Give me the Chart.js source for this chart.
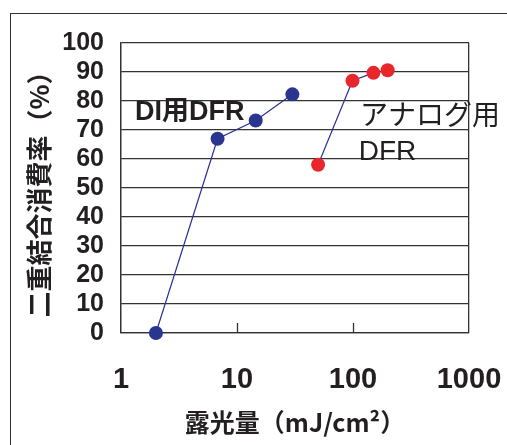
<!DOCTYPE html>
<html lang="ja">
<head>
    <meta charset="UTF-8">
    <title>二重結合消費率</title>
    <script src="https://cdn.jsdelivr.net/npm/chart.js"></script>
    <style>
        body {
            margin: 0;
            background: #fff;
        }

        .wrap {
            position: relative;
            width: 507px;
            height: 445px;
        }

        .frame {
            position: absolute;
            left: 10px;
            top: 13px;
            right: -5px;
            bottom: -5px;
            border-top: 1.5px solid #333;
            border-left: 1.5px solid #333;
        }

        #chart {
            position: absolute;
            left: 0;
            top: 0;
        }
    </style>
</head>
<body>
    <div class="wrap">
        <div class="frame"></div>
        <canvas id="chart" width="507" height="445"></canvas>
    </div>

    <script>
        // 露光量 (mJ/cm2) と 二重結合消費率 (%)
        const diExposure = [2, 6.8, 14.5, 30];
        const diRate = [0, 67, 73.3, 82.3];
        const anaExposure = [50, 99, 150, 199];
        const anaRate = [58, 87, 89.7, 90.6];

        const xTicks = [1, 10, 100, 1000];
        const innerTicks = [10, 100];

        // ラベル位置 (データ座標)
        const notes = [
            { text: 'DI用DFR', x: 1.32, y: 75.9, font: 'bold 27px "Liberation Sans", "Noto Sans CJK JP", sans-serif' },
            { text: 'アナログ用', x: 115, y: 74.5, font: '28px "Liberation Sans", "Noto Sans CJK JP", sans-serif' },
            { text: 'DFR', x: 112, y: 62.4, font: '28px "Liberation Sans", "Noto Sans CJK JP", sans-serif' }
        ];

        const ink = '#231f20';
        const lineColor = '#2b3193';

        const toPoints = (xs, ys) => xs.map((x, i) => ({ x: x, y: ys[i] }));

        // 目盛り(内向き)とラベル
        const extras = {
            id: 'extras',
            afterDatasetsDraw(chart) {
                const { ctx, scales: { x, y }, chartArea } = chart;
                ctx.save();
                ctx.strokeStyle = '#333';
                ctx.lineWidth = 1.3;
                innerTicks.forEach(v => {
                    const px = Math.round(x.getPixelForValue(v)) + 0.5;
                    ctx.beginPath();
                    ctx.moveTo(px, chartArea.bottom);
                    ctx.lineTo(px, chartArea.bottom - 10);
                    ctx.stroke();
                });
                ctx.fillStyle = ink;
                ctx.textBaseline = 'middle';
                ctx.textAlign = 'left';
                notes.forEach(n => {
                    ctx.font = n.font;
                    ctx.fillText(n.text, x.getPixelForValue(n.x), y.getPixelForValue(n.y));
                });
                ctx.restore();
            }
        };

        const ctx = document.getElementById('chart').getContext('2d');
        new Chart(ctx, {
            type: 'scatter',
            data: {
                datasets: [{
                    data: toPoints(diExposure, diRate),
                    showLine: true,
                    borderColor: lineColor,
                    borderWidth: 1.2,
                    pointRadius: 7,
                    pointBackgroundColor: '#2a3590',
                    pointBorderWidth: 0,
                    clip: false
                }, {
                    data: toPoints(anaExposure, anaRate),
                    showLine: true,
                    borderColor: lineColor,
                    borderWidth: 1.2,
                    pointRadius: 7,
                    pointBackgroundColor: '#e8262b',
                    pointBorderWidth: 0,
                    clip: false
                }]
            },
            options: {
                responsive: false,
                animation: false,
                layout: {
                    padding: { top: 43, right: 38, left: 0, bottom: 0 }
                },
                plugins: {
                    legend: { display: false },
                    tooltip: { enabled: false }
                },
                scales: {
                    x: {
                        type: 'logarithmic',
                        min: 1,
                        max: 1000,
                        afterBuildTicks: s => { s.ticks = xTicks.map(v => ({ value: v })); },
                        afterFit: s => { s.height = 112; s.paddingLeft = 0; s.paddingRight = 0; },
                        grid: {
                            drawTicks: false,
                            color: c => (c.tick && (c.tick.value === 1 || c.tick.value === 1000)) ? '#333' : 'rgba(0,0,0,0)',
                            lineWidth: 1.3
                        },
                        border: { display: true, color: '#333', width: 1.3 },
                        ticks: {
                            padding: 30,
                            color: ink,
                            autoSkip: false,
                            maxRotation: 0,
                            font: { family: '"Liberation Sans", Arial, sans-serif', size: 29, weight: 'bold' },
                            callback: v => String(v)
                        },
                        title: {
                            display: true,
                            text: '露光量（mJ/cm²）',
                            color: ink,
                            padding: { top: 0, bottom: 8 },
                            font: { family: '"Noto Sans CJK JP", "Liberation Sans", sans-serif', size: 25, weight: 'bold' }
                        }
                    },
                    y: {
                        min: 0,
                        max: 100,
                        afterFit: s => { s.width = 121; s.paddingTop = 0; s.paddingBottom = 0; },
                        grid: { drawTicks: false, color: '#333', lineWidth: 1.3 },
                        border: { display: true, color: '#333', width: 1.3 },
                        ticks: {
                            stepSize: 10,
                            autoSkip: false,
                            padding: 17,
                            color: ink,
                            font: { family: '"Liberation Sans", Arial, sans-serif', size: 25, weight: 'bold' }
                        },
                        title: {
                            display: true,
                            text: '二重結合消費率（%）',
                            color: ink,
                            padding: { top: 24, bottom: 0 },
                            font: { family: '"Noto Sans CJK JP", "Liberation Sans", sans-serif', size: 26, weight: 'bold' }
                        }
                    }
                }
            },
            plugins: [extras]
        });
    </script>
</body>
</html>
